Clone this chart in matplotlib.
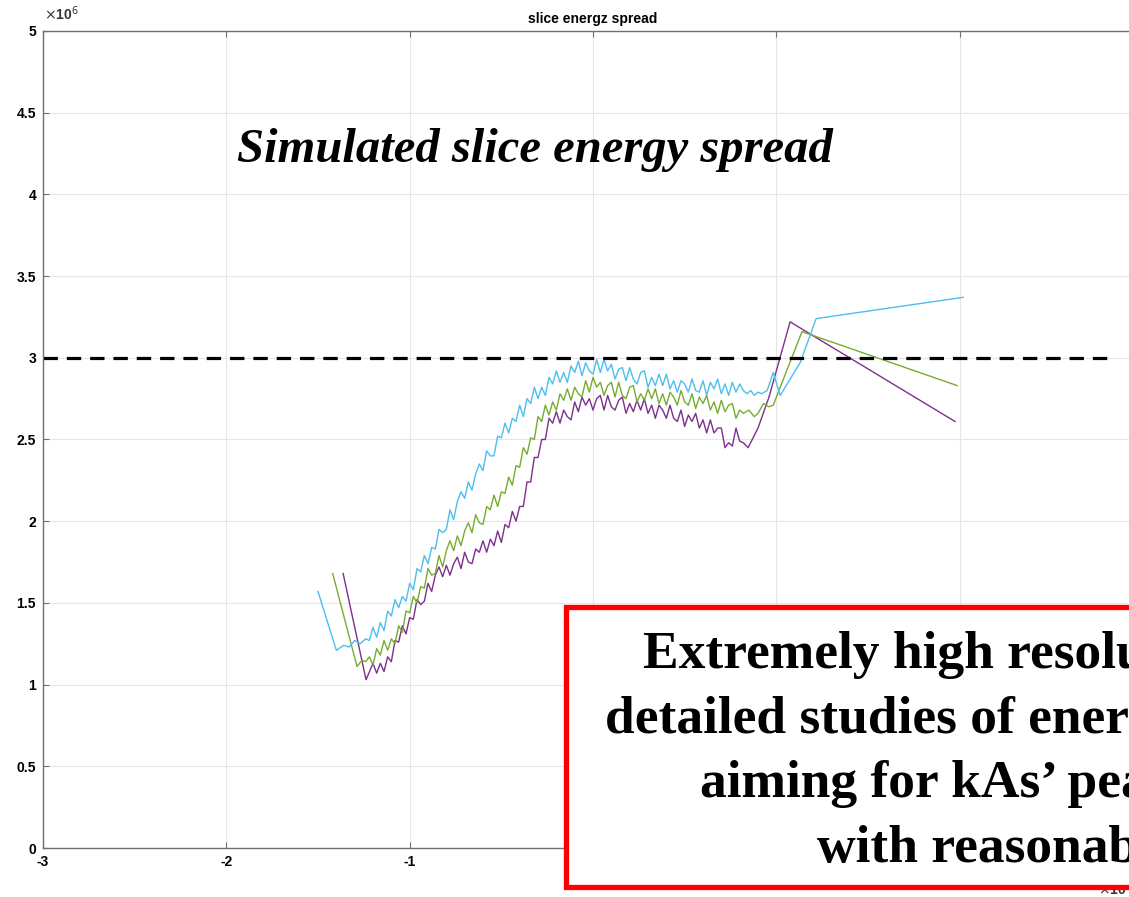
"""Slice energy spread: recreated MATLAB-style figure with annotations."""

import matplotlib

matplotlib.use("Agg")

import matplotlib.pyplot as plt  # noqa: E402
import numpy as np  # noqa: E402
from matplotlib.patches import Rectangle  # noqa: E402

# --- data (y in units of 1e6, x in units of the axis multiplier) -------------
# shared sampling grid of the dense (noisy) part of the curves
grid_x = np.round(np.arange(-1.20, 0.801, 0.02), 2)

cyan_head_x = [-1.50, -1.40, -1.36, -1.33, -1.30, -1.27, -1.24, -1.22]
cyan_head_y = [1.57, 1.21, 1.24, 1.23, 1.27, 1.25, 1.28, 1.27]
cyan_grid_y = [
    1.35, 1.29, 1.38, 1.33, 1.45, 1.42, 1.52, 1.47, 1.54, 1.51,
    1.62, 1.58, 1.71, 1.69, 1.79, 1.74, 1.84, 1.83, 1.95, 1.93,
    1.95, 2.07, 2.01, 2.12, 2.18, 2.14, 2.24, 2.19, 2.29, 2.35,
    2.31, 2.43, 2.40, 2.40, 2.52, 2.51, 2.60, 2.54, 2.63, 2.61,
    2.71, 2.64, 2.75, 2.72, 2.82, 2.75, 2.82, 2.77, 2.88, 2.84,
    2.92, 2.85, 2.91, 2.85, 2.95, 2.91, 2.98, 2.89, 2.97, 2.92,
    2.90, 2.99, 2.91, 2.99, 2.92, 2.96, 2.87, 2.93, 2.94, 2.86,
    2.94, 2.87, 2.84, 2.91, 2.92, 2.82, 2.88, 2.83, 2.90, 2.83,
    2.90, 2.81, 2.86, 2.79, 2.86, 2.84, 2.79, 2.87, 2.80, 2.79,
    2.86, 2.77, 2.85, 2.81, 2.87, 2.78, 2.84, 2.77, 2.85, 2.79,
    2.84,
]
cyan_tail_x = [0.82, 0.84, 0.86, 0.88, 0.90, 0.92, 0.95, 0.983, 1.021, 1.13, 1.217, 2.019]
cyan_tail_y = [2.80, 2.78, 2.80, 2.77, 2.79, 2.78, 2.80, 2.91, 2.77, 2.97, 3.24, 3.37]

green_head_x = [-1.42, -1.287, -1.26, -1.24, -1.22]
green_head_y = [1.68, 1.11, 1.15, 1.14, 1.17]
green_grid_y = [
    1.12, 1.22, 1.18, 1.27, 1.21, 1.28, 1.25, 1.36, 1.32, 1.45,
    1.44, 1.54, 1.50, 1.60, 1.59, 1.71, 1.67, 1.68, 1.79, 1.72,
    1.82, 1.88, 1.82, 1.91, 1.85, 1.94, 1.99, 1.93, 2.04, 1.99,
    1.98, 2.09, 2.07, 2.16, 2.09, 2.18, 2.17, 2.27, 2.22, 2.34,
    2.33, 2.45, 2.41, 2.51, 2.50, 2.64, 2.61, 2.71, 2.65, 2.73,
    2.68, 2.78, 2.74, 2.81, 2.74, 2.82, 2.78, 2.76, 2.86, 2.79,
    2.88, 2.82, 2.85, 2.77, 2.83, 2.85, 2.76, 2.85, 2.77, 2.75,
    2.82, 2.83, 2.73, 2.78, 2.74, 2.81, 2.75, 2.81, 2.72, 2.78,
    2.71, 2.79, 2.76, 2.71, 2.80, 2.73, 2.71, 2.78, 2.69, 2.76,
    2.72, 2.77, 2.68, 2.73, 2.66, 2.74, 2.67, 2.71, 2.72, 2.63,
    2.68,
]
green_tail_x = [0.82, 0.85, 0.88, 0.90, 0.93, 0.96, 0.983, 1.14, 1.986]
green_tail_y = [2.66, 2.68, 2.64, 2.66, 2.72, 2.70, 2.71, 3.16, 2.83]

purple_head_x = [-1.363, -1.238]
purple_head_y = [1.68, 1.03]
purple_grid_y = [
    1.13, 1.07, 1.13, 1.08, 1.17, 1.14, 1.27, 1.26, 1.36, 1.31,
    1.41, 1.40, 1.52, 1.49, 1.51, 1.62, 1.57, 1.67, 1.72, 1.66,
    1.73, 1.67, 1.74, 1.78, 1.71, 1.81, 1.75, 1.74, 1.83, 1.81,
    1.88, 1.81, 1.89, 1.85, 1.94, 1.87, 1.98, 1.96, 2.06, 2.00,
    2.09, 2.09, 2.24, 2.24, 2.39, 2.39, 2.50, 2.50, 2.63, 2.60,
    2.67, 2.60, 2.68, 2.64, 2.62, 2.73, 2.67, 2.76, 2.71, 2.75,
    2.68, 2.75, 2.77, 2.68, 2.77, 2.70, 2.68, 2.74, 2.76, 2.66,
    2.72, 2.67, 2.74, 2.68, 2.75, 2.66, 2.71, 2.63, 2.71, 2.68,
    2.63, 2.71, 2.63, 2.61, 2.68, 2.58, 2.65, 2.61, 2.66, 2.57,
    2.62, 2.54, 2.62, 2.54, 2.57, 2.57, 2.45, 2.48, 2.46, 2.57,
    2.49,
]
purple_tail_x = [0.82, 0.846, 0.90, 0.96, 1.075, 1.975]
purple_tail_y = [2.48, 2.45, 2.57, 2.76, 3.22, 2.61]

threshold_x = [-3.0, 2.82]
threshold_y = [3.0, 3.0]

y_ticks = [0, 0.5, 1, 1.5, 2, 2.5, 3, 3.5, 4, 4.5, 5]
y_tick_labels = ["0", "0.5", "1", "1.5", "2", "2.5", "3", "3.5", "4", "4.5", "5"]
x_ticks = [-3, -2, -1, 0, 1, 2, 3]
x_tick_labels = ["-3", "-2", "-1", "0", "1", "2", "3"]

box_lines = [
    "Extremely high resolution for",
    "detailed studies of energy spread",
    "aiming for kAs\u2019 peak current",
    "with reasonable emittance",
]
box_line_left = [643, 605, 700, 817]      # px, left edge of each line
box_line_base = [668, 733, 797, 862]      # px, baseline of each line

SANS = ["Liberation Sans Narrow", "Liberation Sans", "DejaVu Sans"]
SERIF = ["Liberation Serif", "DejaVu Serif"]

W, H = 1129, 897


def series(head_x, head_y, grid_y, tail_x, tail_y):
    x = np.concatenate([head_x, grid_x, tail_x])
    y = np.concatenate([head_y, grid_y, tail_y])
    return x, y


fig = plt.figure(figsize=(W / 100, H / 100), dpi=100)
ax = fig.add_axes([43 / W, 49 / H, 1100 / W, 817 / H])

for hx, hy, gy, tx, ty, color in [
    (purple_head_x, purple_head_y, purple_grid_y, purple_tail_x, purple_tail_y, "#7E2F8E"),
    (green_head_x, green_head_y, green_grid_y, green_tail_x, green_tail_y, "#77AC30"),
    (cyan_head_x, cyan_head_y, cyan_grid_y, cyan_tail_x, cyan_tail_y, "#4DBEEE"),
]:
    x, y = series(hx, hy, gy, tx, ty)
    ax.plot(x, y, color=color, lw=1.0)

ax.plot(threshold_x, threshold_y, color="black", lw=2.3, linestyle=(0, (4.5, 2.8)))

ax.set_xlim(-3, 3)
ax.set_ylim(0, 5)
ax.set_yticks(y_ticks, labels=y_tick_labels)
ax.set_xticks(x_ticks, labels=x_tick_labels)
ax.grid(True, color="#e6e6e6", lw=0.8)
ax.set_axisbelow(True)
ax.tick_params(direction="in", top=True, right=True, length=4, color="#707070",
               labelsize=10, pad=5)
for lbl in ax.get_xticklabels() + ax.get_yticklabels():
    lbl.set_fontweight("bold")
    lbl.set_family(SANS)
for sp in ax.spines.values():
    sp.set_color("#707070")
    sp.set_linewidth(1.0)

ax.set_title("slice energz spread", fontsize=10, fontweight="bold", family=SANS, pad=6)

# multipliers of the axes
fig.text(44 / W, 1 - 20 / H, r"$\times$10$^{6}$", fontsize=10, family=SANS,
         fontweight="bold", color="#333333", va="baseline")
fig.text(1098 / W, 1 - 895 / H, r"$\times$10$^{-4}$", fontsize=10, family=SANS,
         fontweight="bold", color="#333333", va="baseline")

# annotations
fig.text(237 / W, 1 - 162 / H, "Simulated slice energy spread", fontsize=35,
         family=SERIF, fontweight="bold", style="italic", va="baseline")

box = Rectangle((566 / W, 1 - 887 / H), 0.6, (887 - 607) / H, transform=fig.transFigure,
                facecolor="white", edgecolor="#ff0000", lw=3.8, zorder=10, clip_on=False)
fig.patches.append(box)
for text, left, base in zip(box_lines, box_line_left, box_line_base):
    fig.text(left / W, 1 - base / H, text, fontsize=38.5, family=SERIF, fontweight="bold",
             va="baseline", ha="left", zorder=11)

fig.savefig("out.png", dpi=100)
